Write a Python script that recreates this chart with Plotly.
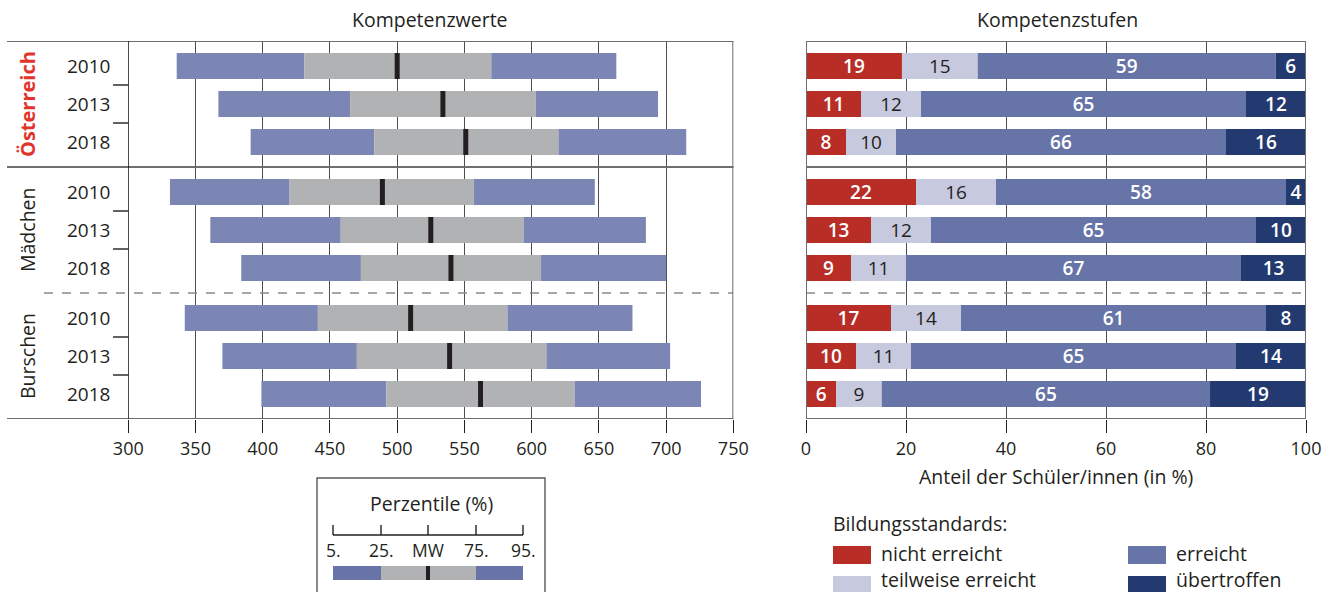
import plotly.graph_objects as go

# ---------------- data ----------------
groups = ["Österreich", "Mädchen", "Burschen"]
years = ["2010", "2013", "2018"]

# Kompetenzwerte (percentiles and mean), rows: group x year
p5 = [336, 367, 391, 331, 361, 384, 342, 370, 399]
p25 = [431, 465, 483, 420, 458, 473, 441, 470, 492]
mw = [500, 534, 551, 489, 525, 540, 510, 539, 562]
p75 = [570, 603, 620, 557, 594, 607, 582, 611, 632]
p95 = [663, 694, 715, 647, 685, 700, 675, 703, 726]

# Kompetenzstufen (% of students)
nicht_erreicht = [19, 11, 8, 22, 13, 9, 17, 10, 6]
teilweise_erreicht = [15, 12, 10, 16, 12, 11, 14, 11, 9]
erreicht = [59, 65, 66, 58, 65, 67, 61, 65, 65]
uebertroffen = [6, 12, 16, 4, 10, 13, 8, 14, 19]

left_ticks = [300, 350, 400, 450, 500, 550, 600, 650, 700, 750]
right_ticks = [0, 20, 40, 60, 80, 100]

# ---------------- style / layout ----------------
W, H = 1325, 592
FONT = "Open Sans"
TXT = "#231f20"
C_BLUE_L = "#7b86b4"
C_GRAY = "#b1b2b4"
C_MARK = "#231f20"
C_NICHT = "#b82e27"
C_TEIL = "#c7c9df"
C_ERR = "#6674a7"
C_UEB = "#233a70"
LINE = "#6d6e71"
FS_TXT = 19.5
FS_NUM = 18
FS_YEAR = 19
FS_BAR = 19

FIRST_ROW = 66
ROW = 38
GROUP_STEP = 126
BAR_W = 26
MARK_W = 3.7

def px(x):
    return x / W

def py(y):
    return 1 - y / H

ypos = []
ylab = []
for g in range(len(groups)):
    for i in range(len(years)):
        ypos.append(FIRST_ROW + g * GROUP_STEP + i * ROW)
        ylab.append(years[i])

Y_TOP = ypos[0] - BAR_W / 2 - 12
Y_BOT = ypos[-1] + BAR_W / 2 + 12

fig = go.Figure()

# left panel bars
fig.add_trace(go.Bar(y=ypos, base=p5, x=[b - a for a, b in zip(p5, p25)], orientation="h",
                     width=BAR_W, marker=dict(color=C_BLUE_L, line=dict(width=0)),
                     xaxis="x", yaxis="y", showlegend=False, hoverinfo="skip"))
fig.add_trace(go.Bar(y=ypos, base=p25, x=[b - a for a, b in zip(p25, p75)], orientation="h",
                     width=BAR_W, marker=dict(color=C_GRAY, line=dict(width=0)),
                     xaxis="x", yaxis="y", showlegend=False, hoverinfo="skip"))
fig.add_trace(go.Bar(y=ypos, base=p75, x=[b - a for a, b in zip(p75, p95)], orientation="h",
                     width=BAR_W, marker=dict(color=C_BLUE_L, line=dict(width=0)),
                     xaxis="x", yaxis="y", showlegend=False, hoverinfo="skip"))
fig.add_trace(go.Bar(y=ypos, base=[m - MARK_W / 2 for m in mw], x=[MARK_W] * len(mw), orientation="h",
                     width=BAR_W, marker=dict(color=C_MARK, line=dict(width=0)),
                     xaxis="x", yaxis="y", showlegend=False, hoverinfo="skip"))

# right panel stacked bars (normalised to 100 %)
totals = [a + b + c + d for a, b, c, d in zip(nicht_erreicht, teilweise_erreicht, erreicht, uebertroffen)]
series = [
    ("nicht erreicht", nicht_erreicht, C_NICHT, "white", 600),
    ("teilweise erreicht", teilweise_erreicht, C_TEIL, TXT, 400),
    ("erreicht", erreicht, C_ERR, "white", 600),
    ("übertroffen", uebertroffen, C_UEB, "white", 600),
]
cum = [0.0] * len(ypos)
for name, vals, col, tcol, wt in series:
    widths = [v / t * 100 for v, t in zip(vals, totals)]
    fig.add_trace(go.Bar(y=ypos, base=list(cum), x=widths, orientation="h", width=BAR_W,
                         marker=dict(color=col, line=dict(width=0)),
                         text=[str(v) for v in vals], textposition="inside", textangle=0,
                         insidetextanchor="middle", constraintext="none",
                         textfont=dict(family=FONT, size=FS_BAR, color=tcol, weight=wt),
                         xaxis="x2", yaxis="y", showlegend=False, name=name, hoverinfo="skip"))
    cum = [c + w for c, w in zip(cum, widths)]

shapes = []
# horizontal frame lines
sep1 = (ypos[2] + ypos[3]) / 2
sep2 = (ypos[5] + ypos[6]) / 2
for yv in [Y_TOP, sep1, Y_BOT]:
    shapes.append(dict(type="line", xref="paper", yref="y", x0=px(7), x1=px(733.5), y0=yv, y1=yv,
                       line=dict(color=LINE, width=2)))
    shapes.append(dict(type="line", xref="paper", yref="y", x0=px(806), x1=px(1306), y0=yv, y1=yv,
                       line=dict(color=LINE, width=2)))
# dashed separator
shapes.append(dict(type="line", xref="paper", yref="y", x0=px(44), x1=px(733), y0=sep2, y1=sep2,
                   line=dict(color="#8a8b8d", width=1.6, dash="dash")))
shapes.append(dict(type="line", xref="paper", yref="y", x0=px(806), x1=px(1306), y0=sep2, y1=sep2,
                   line=dict(color="#8a8b8d", width=1.6, dash="dash")))
# left axis line at 300 and borders
shapes.append(dict(type="line", xref="x", yref="y", x0=300, x1=300, y0=Y_TOP, y1=Y_BOT,
                   line=dict(color="#000000", width=1.4)))
shapes.append(dict(type="line", xref="x", yref="y", x0=750, x1=750, y0=Y_TOP, y1=Y_BOT,
                   line=dict(color=LINE, width=2)))
shapes.append(dict(type="line", xref="x2", yref="y", x0=0, x1=0, y0=Y_TOP, y1=Y_BOT,
                   line=dict(color=LINE, width=2)))
shapes.append(dict(type="line", xref="x2", yref="y", x0=100, x1=100, y0=Y_TOP, y1=Y_BOT,
                   line=dict(color=LINE, width=2)))
# year tick marks
for g in range(3):
    for i in range(2):
        k = g * 3 + i
        ym = (ypos[k] + ypos[k + 1]) / 2
        shapes.append(dict(type="line", xref="paper", yref="y", x0=px(113), x1=px(128.5), y0=ym, y1=ym,
                           line=dict(color=TXT, width=1.4)))

annotations = []
for yv, lab in zip(ypos, ylab):
    annotations.append(dict(xref="paper", yref="y", x=px(112), y=yv, text=lab, showarrow=False,
                            xanchor="right", yanchor="middle", font=dict(family=FONT, size=FS_YEAR, color=TXT)))
for g, name in enumerate(groups):
    yc = ypos[g * 3 + 1]
    if g == 0:
        f = dict(family=FONT, size=20, color="#e3342b", weight=700)
    else:
        f = dict(family=FONT, size=FS_TXT, color=TXT)
    annotations.append(dict(xref="paper", yref="y", x=px(27), y=yc, text=name, textangle=-90,
                            showarrow=False, xanchor="center", yanchor="middle", font=f))

annotations.append(dict(xref="paper", yref="paper", x=px(430), y=py(20), text="Kompetenzwerte",
                        showarrow=False, xanchor="center", yanchor="middle",
                        font=dict(family=FONT, size=FS_TXT, color=TXT)))
annotations.append(dict(xref="paper", yref="paper", x=px(1057), y=py(20), text="Kompetenzstufen",
                        showarrow=False, xanchor="center", yanchor="middle",
                        font=dict(family=FONT, size=FS_TXT, color=TXT)))
annotations.append(dict(xref="paper", yref="paper", x=px(1056), y=py(476),
                        text="Anteil der Schüler/innen (in %)", xanchor="center", yanchor="middle",
                        showarrow=False, font=dict(family=FONT, size=FS_TXT, color=TXT)))

# Perzentile legend box
shapes.append(dict(type="rect", xref="paper", yref="paper", x0=px(317), x1=px(545), y0=py(610), y1=py(478),
                   line=dict(color="#58595b", width=1.4), fillcolor="rgba(0,0,0,0)"))
annotations.append(dict(xref="paper", yref="paper", x=px(431), y=py(503), text="Perzentile (%)",
                        showarrow=False, xanchor="center", yanchor="middle",
                        font=dict(family=FONT, size=FS_TXT, color=TXT)))
leg_x = [333, 381, 428, 476, 523]
leg_lab = ["5.", "25.", "MW", "75.", "95."]
shapes.append(dict(type="line", xref="paper", yref="paper", x0=px(333), x1=px(523), y0=py(535), y1=py(535),
                   line=dict(color=TXT, width=1.4)))
for xv, lab in zip(leg_x, leg_lab):
    shapes.append(dict(type="line", xref="paper", yref="paper", x0=px(xv), x1=px(xv), y0=py(525), y1=py(535),
                       line=dict(color=TXT, width=1.4)))
    annotations.append(dict(xref="paper", yref="paper", x=px(xv), y=py(550), text=lab, showarrow=False,
                            xanchor="center", yanchor="middle",
                            font=dict(family=FONT, size=17.5, color=TXT)))
for x0, x1, col in [(333, 381, "#6874a8"), (381, 476, C_GRAY), (476, 523, "#6874a8"), (426, 430, C_MARK)]:
    shapes.append(dict(type="rect", xref="paper", yref="paper", x0=px(x0), x1=px(x1), y0=py(580), y1=py(566),
                       line=dict(width=0), fillcolor=col))

# Bildungsstandards legend
annotations.append(dict(xref="paper", yref="paper", x=px(831), y=py(523), text="Bildungsstandards:",
                        showarrow=False, xanchor="left", yanchor="middle",
                        font=dict(family=FONT, size=FS_TXT, color=TXT)))
leg_items = [("nicht erreicht", C_NICHT, 833, 555, 553), ("teilweise erreicht", C_TEIL, 833, 585, 579),
             ("erreicht", C_ERR, 1128, 555, 553), ("übertroffen", C_UEB, 1128, 585, 579)]
for name, col, xv, yv, yt in leg_items:
    shapes.append(dict(type="rect", xref="paper", yref="paper", x0=px(xv), x1=px(xv + 38),
                       y0=py(yv + 9), y1=py(yv - 9), line=dict(width=0), fillcolor=col))
    annotations.append(dict(xref="paper", yref="paper", x=px(xv + 46), y=py(yt), text=name, showarrow=False,
                            xanchor="left", yanchor="middle", font=dict(family=FONT, size=FS_TXT, color=TXT)))

fig.update_layout(
    width=W, height=H, margin=dict(l=0, r=0, t=0, b=0, pad=0), autosize=False,
    paper_bgcolor="white", plot_bgcolor="white",
    barmode="overlay", showlegend=False,
    font=dict(family=FONT, size=FS_NUM, color=TXT),
    xaxis=dict(domain=[px(128.3), px(733.3)], range=[300, 750], tickvals=left_ticks,
               ticktext=[str(t) for t in left_ticks], showgrid=True, gridcolor="#4d4d4f", gridwidth=1.2,
               zeroline=False, showline=False, ticks="outside", ticklen=13, tickwidth=1.4, automargin=False,
               tickcolor=TXT, tickfont=dict(family=FONT, size=FS_NUM, color=TXT), anchor="y", fixedrange=True),
    xaxis2=dict(domain=[px(806), px(1306)], range=[0, 100], tickvals=right_ticks,
                ticktext=[str(t) for t in right_ticks], showgrid=True, gridcolor="#4d4d4f", gridwidth=1.2,
                zeroline=False, showline=False, ticks="outside", ticklen=13, tickwidth=1.4, automargin=False,
                tickcolor=TXT, tickfont=dict(family=FONT, size=FS_NUM, color=TXT), anchor="y", fixedrange=True),
    yaxis=dict(domain=[py(Y_BOT), py(Y_TOP)], range=[Y_BOT, Y_TOP], showgrid=False, zeroline=False,
               showticklabels=False, showline=False, ticks="", fixedrange=True, automargin=False),
    shapes=shapes, annotations=annotations,
)

fig.write_html("out.html", config={"responsive": False, "displayModeBar": False},
               post_script="document.body.style.margin='0px';document.body.style.overflow='hidden';")
